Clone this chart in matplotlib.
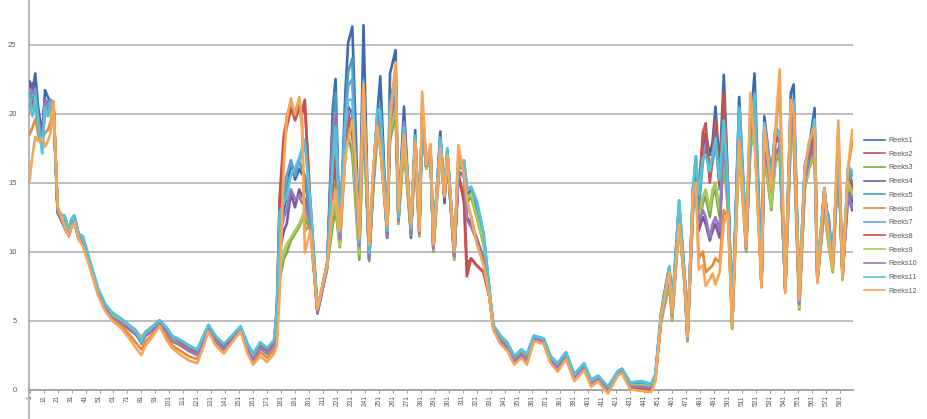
import matplotlib
matplotlib.use("Agg")
import matplotlib.pyplot as plt
import numpy as np

plt.rcParams['font.family'] = ['Liberation Sans', 'DejaVu Sans']

# shared sample positions (category index along the x axis)
days = [1, 3, 5, 7, 10, 12, 14, 16, 18, 21, 24, 26, 29, 31, 33, 36, 39,
        45, 50, 55, 60, 67, 73, 77, 81, 84, 88, 94, 99, 103, 109, 115, 121, 125, 129, 134, 140, 145, 152, 157, 161, 166, 171, 176,
        178, 180, 183, 185, 188, 191, 194, 196, 198, 202, 207, 210, 214,
        218, 220, 223, 227, 229, 232, 234, 237, 240, 244, 247, 250, 252, 257, 259, 263, 265,
        269, 274, 277, 280, 282, 285, 288, 290, 295, 298, 300, 305, 308, 312, 314, 317, 321, 326, 330, 333,
        338, 343, 348, 353, 357, 362, 369, 374, 379, 385, 391, 398, 403, 408, 415, 422, 425, 431, 439, 446, 449,
        453, 455, 459, 461, 466, 470, 472, 476, 478, 480, 483, 485, 488, 490, 492, 495, 498, 501, 504,
        509, 514, 517, 520, 525, 527, 532, 535, 538, 542, 546, 548, 552, 556, 559, 563, 565, 570, 573, 576, 580, 583, 587, 590]

reeks1 = [22.3, 21.5, 22.9, 20.5, 18.5, 21.7, 21.2, 20.8, 20.6, 12.8, 12.2, 11.7, 11.1, 11.8, 12.1, 10.9, 10.5,
          8.7, 7.0, 5.9, 5.3, 4.9, 4.4, 4.1, 3.5, 4.0, 4.3, 4.9, 4.3, 3.6, 3.3, 2.9, 2.6, 3.5, 4.5, 3.6, 3.0, 3.6, 4.4, 3.0, 2.2, 3.1, 2.7, 3.3,
          5.5, 12.0, 13.0, 14.0, 16.6, 15.2, 16.0, 15.6, 15.5, 12.0, 5.6, 7.0, 9.0,
          20.3, 22.5, 10.8, 21.5, 25.1, 26.3, 20.0, 10.5, 26.4, 9.8, 15.5, 20.0, 22.7, 11.0, 22.9, 24.6, 12.5,
          20.5, 11.0, 18.8, 11.5, 19.5, 16.0, 17.5, 10.2, 18.7, 13.5, 17.2, 9.8, 16.0, 16.2, 14.0, 14.5, 13.0, 11.0, 7.3, 4.6,
          3.6, 3.1, 2.1, 2.6, 2.1, 3.7, 3.5, 2.1, 1.6, 2.4, 0.9, 1.6, 0.4, 0.8, 0.0, 1.2, 1.4, 0.2, 0.2, 0.1, 0.9,
          5.0, 6.5, 8.5, 5.5, 12.5, 8.0, 3.8, 14.0, 16.5, 13.5, 17.5, 18.5, 17.0, 18.0, 20.5, 16.0, 22.8, 15.0, 4.6,
          21.2, 11.0, 19.0, 22.9, 8.0, 19.8, 15.5, 19.0, 18.5, 7.5, 21.5, 22.1, 7.0, 16.0, 17.5, 20.4, 8.5, 14.0, 11.0, 9.5, 17.0, 8.5, 15.0, 13.5]

reeks2 = [20.8, 21.0, 21.2, 19.6, 18.2, 20.6, 20.5, 20.4, 20.7, 13.0, 12.3, 11.8, 11.2, 11.9, 12.2, 11.0, 10.6,
          8.8, 7.1, 6.0, 5.4, 5.0, 4.5, 4.2, 3.8, 4.1, 4.4, 5.0, 4.4, 3.7, 3.4, 3.0, 2.7, 3.6, 4.5, 3.7, 3.1, 3.7, 4.4, 3.1, 2.4, 3.2, 2.8, 3.3,
          6.0, 14.0, 18.5, 19.5, 20.5, 19.5, 20.4, 20.2, 21.0, 12.8, 5.8, 7.2, 9.2,
          15.0, 17.0, 10.5, 18.5, 20.0, 19.0, 15.5, 10.8, 21.0, 9.5, 15.0, 19.5, 18.5, 11.5, 19.0, 21.0, 12.5,
          18.0, 11.5, 17.5, 11.8, 20.0, 16.2, 17.0, 10.5, 17.5, 14.0, 16.8, 9.6, 15.5, 14.0, 9.0, 9.5, 9.0, 8.5, 6.8, 4.4,
          3.5, 3.0, 2.0, 2.5, 2.0, 3.6, 3.4, 2.0, 1.5, 2.3, 0.8, 1.6, 0.4, 0.7, -0.1, 1.1, 1.3, 0.1, 0.1, 0.0, 0.8,
          5.3, 6.8, 8.9, 6.0, 13.0, 8.2, 4.0, 14.7, 16.0, 14.0, 18.6, 19.3, 15.5, 17.0, 19.5, 15.0, 21.0, 14.5, 4.8,
          19.5, 10.5, 18.5, 20.5, 7.8, 18.5, 14.0, 18.0, 18.0, 7.3, 20.0, 19.5, 6.5, 15.5, 17.0, 18.5, 8.0, 14.5, 11.5, 9.0, 17.5, 8.2, 15.5, 14.5]

reeks3 = [21.0, 20.2, 20.8, 19.2, 18.0, 20.2, 20.0, 20.2, 20.5, 13.1, 12.4, 11.9, 11.3, 12.0, 12.3, 11.1, 10.7,
          8.8, 7.1, 6.0, 5.3, 4.9, 4.3, 4.0, 3.7, 4.0, 4.3, 4.9, 4.2, 3.6, 3.2, 2.8, 2.6, 3.4, 4.4, 3.5, 3.0, 3.5, 4.3, 2.9, 2.3, 3.0, 2.6, 3.2,
          4.5, 8.0, 9.5, 9.9, 10.8, 11.3, 11.8, 12.3, 12.5, 11.5, 5.7, 7.0, 8.8,
          12.0, 13.0, 10.3, 17.0, 18.5, 17.0, 14.0, 9.4, 19.5, 9.3, 14.5, 18.5, 17.5, 11.2, 18.0, 20.0, 12.0,
          17.5, 11.2, 17.0, 11.1, 19.0, 16.0, 16.8, 10.0, 17.0, 14.2, 17.0, 9.4, 16.5, 15.8, 13.5, 14.0, 12.5, 10.5, 7.0, 4.5,
          3.7, 3.2, 2.2, 2.7, 2.2, 3.7, 3.5, 2.2, 1.7, 2.5, 1.0, 1.7, 0.5, 0.9, 0.1, 1.2, 1.4, 0.3, 0.3, 0.2, 1.0,
          4.8, 5.8, 7.5, 5.0, 12.0, 7.4, 3.5, 13.0, 14.0, 12.0, 13.5, 14.0, 12.5, 14.0, 14.5, 12.5, 16.5, 13.0, 4.4,
          17.5, 10.0, 17.5, 18.5, 7.5, 17.0, 13.0, 16.5, 17.0, 7.2, 18.0, 18.0, 5.8, 14.5, 16.0, 17.0, 7.8, 13.0, 10.5, 8.5, 16.5, 8.0, 15.0, 14.0]

reeks4 = [22.0, 22.2, 21.5, 19.0, 18.5, 21.0, 20.8, 20.6, 20.8, 12.9, 12.2, 11.8, 11.2, 11.9, 12.2, 11.0, 10.6,
          8.7, 7.0, 5.9, 5.3, 4.8, 4.3, 4.0, 3.4, 3.9, 4.2, 4.8, 4.2, 3.5, 3.2, 2.8, 2.5, 3.4, 4.4, 3.5, 2.9, 3.5, 4.3, 2.9, 2.1, 3.0, 2.6, 3.2,
          5.0, 10.0, 11.5, 12.0, 14.2, 13.2, 14.5, 14.0, 13.8, 12.0, 5.5, 6.9, 8.8,
          19.5, 20.5, 11.0, 19.0, 20.5, 20.0, 16.0, 10.5, 21.5, 9.5, 15.0, 19.8, 19.5, 11.0, 20.0, 22.0, 12.2,
          19.5, 11.3, 18.0, 11.4, 19.8, 16.3, 17.2, 10.3, 18.0, 14.0, 17.0, 9.7, 15.8, 15.5, 12.5, 12.0, 11.0, 9.5, 7.0, 4.5,
          3.6, 3.1, 2.1, 2.6, 2.1, 3.7, 3.5, 2.1, 1.6, 2.4, 0.9, 1.6, 0.4, 0.8, 0.0, 1.2, 1.4, 0.2, 0.2, 0.1, 0.9,
          5.0, 6.0, 8.0, 5.3, 12.3, 7.7, 3.6, 13.5, 14.5, 11.5, 12.5, 12.0, 10.8, 11.5, 12.0, 11.0, 19.0, 13.5, 4.6,
          19.0, 10.2, 18.0, 19.5, 7.6, 17.5, 14.5, 17.0, 17.5, 7.2, 19.0, 19.0, 6.2, 15.0, 16.5, 17.5, 7.9, 13.5, 12.5, 9.0, 16.8, 8.3, 14.0, 13.0]

reeks5 = [21.5, 21.0, 21.6, 18.5, 17.6, 20.8, 20.3, 20.6, 20.9, 13.0, 12.4, 12.2, 11.4, 12.2, 12.5, 11.2, 10.9,
          8.9, 7.2, 6.1, 5.5, 5.0, 4.5, 4.2, 3.3, 4.1, 4.4, 5.0, 4.4, 3.8, 3.5, 3.1, 2.8, 3.7, 4.6, 3.8, 3.2, 3.7, 4.5, 3.2, 2.5, 3.3, 2.9, 3.4,
          5.5, 12.5, 14.0, 15.0, 15.5, 16.0, 16.5, 16.0, 15.5, 12.5, 5.7, 7.1, 9.0,
          18.5, 21.5, 11.0, 20.0, 23.0, 24.0, 17.0, 10.2, 22.5, 9.6, 15.5, 20.0, 20.5, 11.2, 20.5, 22.5, 12.4,
          19.0, 11.5, 18.2, 11.6, 20.0, 16.5, 17.4, 10.6, 18.3, 14.3, 17.3, 10.0, 16.2, 16.4, 14.6, 14.6, 13.5, 11.2, 7.3, 4.6,
          3.8, 3.3, 2.3, 2.8, 2.3, 3.8, 3.6, 2.3, 1.8, 2.6, 1.0, 1.8, 0.6, 0.9, 0.1, 1.3, 1.5, 0.4, 0.5, 0.3, 1.0,
          5.4, 6.6, 8.7, 5.8, 13.5, 8.0, 3.9, 14.2, 16.9, 13.0, 16.5, 17.5, 15.5, 16.5, 18.5, 14.5, 20.5, 14.8, 4.9,
          20.0, 10.8, 18.8, 21.0, 7.7, 19.0, 15.0, 18.5, 18.0, 7.4, 20.5, 20.5, 6.8, 16.0, 17.2, 19.0, 8.2, 14.2, 11.5, 9.2, 17.5, 8.4, 15.8, 15.0]

reeks6 = [18.5, 19.0, 19.6, 18.6, 18.2, 18.6, 18.8, 19.4, 20.8, 13.2, 12.4, 11.9, 11.2, 11.9, 12.2, 11.0, 10.6,
          8.6, 6.9, 5.8, 5.1, 4.6, 3.9, 3.4, 2.9, 3.5, 3.9, 4.7, 3.9, 3.2, 2.8, 2.4, 2.2, 3.2, 4.3, 3.4, 2.8, 3.4, 4.3, 2.8, 2.0, 2.7, 2.3, 2.9,
          4.0, 9.0, 17.5, 19.8, 20.8, 20.0, 21.0, 19.0, 11.5, 12.0, 5.9, 7.2, 9.1,
          14.0, 15.0, 11.2, 17.0, 18.5, 19.5, 17.0, 11.0, 22.0, 10.2, 15.8, 19.0, 17.8, 11.6, 19.2, 23.2, 12.8,
          18.8, 11.9, 17.8, 11.4, 21.0, 16.4, 17.6, 10.4, 17.6, 14.0, 17.0, 10.1, 17.2, 15.6, 13.5, 12.6, 10.8, 9.2, 6.9, 4.4,
          3.4, 2.9, 1.9, 2.4, 1.9, 3.6, 3.4, 2.0, 1.4, 2.3, 0.7, 1.5, 0.3, 0.7, -0.2, 1.1, 1.3, 0.1, 0.0, -0.1, 0.7,
          5.1, 6.2, 8.4, 5.4, 12.2, 7.8, 3.7, 14.3, 15.5, 9.5, 10.0, 8.5, 8.8, 9.0, 9.5, 9.2, 13.0, 12.5, 4.7,
          18.0, 10.6, 20.5, 18.5, 7.4, 18.8, 14.2, 18.5, 22.0, 7.0, 20.0, 19.8, 6.4, 15.5, 17.8, 18.8, 7.9, 14.4, 11.2, 8.8, 19.0, 8.0, 16.0, 18.0]

reeks7 = [21.2, 20.5, 21.8, 19.8, 17.5, 20.9, 20.5, 21.0, 20.7, 13.0, 12.6, 12.6, 11.5, 12.4, 12.6, 11.3, 11.1,
          9.0, 7.3, 6.2, 5.5, 5.1, 4.6, 4.3, 3.6, 4.2, 4.5, 5.0, 4.5, 3.8, 3.5, 3.1, 2.9, 3.8, 4.6, 3.8, 3.2, 3.8, 4.5, 3.3, 2.6, 3.4, 3.0, 3.5,
          5.8, 13.0, 14.5, 15.5, 16.6, 15.5, 16.6, 17.0, 18.1, 13.5, 5.8, 7.2, 9.1,
          17.0, 20.0, 11.2, 19.5, 22.0, 22.5, 16.5, 10.6, 22.0, 9.8, 15.6, 20.2, 20.0, 11.3, 20.8, 22.8, 12.3,
          19.2, 11.6, 18.4, 11.7, 19.8, 16.6, 17.5, 10.7, 18.2, 14.4, 17.4, 10.2, 16.3, 16.6, 14.7, 14.5, 13.7, 11.3, 7.3, 4.6,
          3.9, 3.4, 2.4, 2.9, 2.5, 3.9, 3.7, 2.4, 1.9, 2.7, 1.1, 1.9, 0.7, 1.0, 0.2, 1.3, 1.5, 0.5, 0.6, 0.4, 1.1,
          5.5, 6.6, 8.9, 5.9, 13.7, 8.1, 4.0, 14.6, 16.8, 14.0, 17.0, 17.8, 16.0, 16.5, 18.0, 15.0, 20.0, 14.5, 5.0,
          20.5, 11.0, 19.0, 21.5, 7.8, 19.2, 15.2, 18.8, 18.3, 7.6, 20.8, 21.0, 7.0, 16.2, 17.4, 19.5, 8.4, 14.5, 11.7, 9.4, 17.8, 8.6, 16.0, 15.5]

reeks8 = [20.5, 20.8, 21.0, 19.4, 18.0, 20.4, 20.2, 20.4, 20.6, 12.9, 12.3, 11.8, 11.2, 11.9, 12.1, 11.0, 10.6,
          8.7, 7.0, 5.9, 5.3, 4.9, 4.4, 4.1, 3.7, 4.0, 4.3, 4.9, 4.3, 3.6, 3.3, 2.9, 2.6, 3.5, 4.5, 3.6, 3.0, 3.6, 4.4, 3.0, 2.3, 3.1, 2.7, 3.3,
          5.8, 13.5, 18.0, 19.0, 20.3, 19.9, 20.5, 20.0, 20.6, 13.5, 5.8, 7.1, 9.0,
          15.0, 16.0, 10.6, 18.0, 19.5, 18.5, 15.0, 11.0, 20.5, 9.7, 15.0, 19.0, 18.0, 11.6, 19.0, 21.2, 12.6,
          18.2, 11.4, 17.6, 11.7, 20.2, 16.1, 17.1, 10.4, 17.6, 13.9, 16.9, 9.7, 15.6, 13.5, 8.2, 9.5, 9.0, 8.5, 6.8, 4.4,
          3.5, 3.0, 2.0, 2.5, 2.0, 3.6, 3.4, 2.0, 1.5, 2.3, 0.8, 1.6, 0.4, 0.7, -0.1, 1.1, 1.3, 0.1, 0.1, 0.0, 0.8,
          5.3, 6.5, 8.8, 5.8, 12.8, 8.0, 3.9, 14.4, 16.0, 14.5, 18.0, 18.6, 15.0, 16.8, 19.0, 14.8, 21.5, 14.2, 5.0,
          19.8, 10.4, 18.3, 20.8, 7.6, 18.3, 14.3, 18.2, 18.2, 7.2, 20.3, 19.2, 6.4, 15.6, 16.8, 18.6, 7.8, 14.6, 11.6, 9.0, 17.6, 8.1, 15.2, 14.8]

reeks9 = [20.2, 20.0, 20.5, 19.0, 18.3, 20.0, 19.8, 20.0, 20.4, 13.1, 12.4, 11.9, 11.3, 12.0, 12.3, 11.1, 10.7,
          8.8, 7.1, 6.0, 5.4, 4.9, 4.4, 4.1, 3.8, 4.0, 4.3, 4.8, 4.2, 3.6, 3.2, 2.8, 2.5, 3.4, 4.4, 3.5, 2.9, 3.5, 4.3, 2.9, 2.4, 3.0, 2.6, 3.2,
          4.8, 8.5, 10.0, 10.5, 11.0, 11.5, 12.0, 12.5, 13.0, 12.0, 5.8, 7.1, 8.9,
          13.0, 13.5, 10.4, 17.5, 18.0, 18.0, 14.5, 9.8, 20.0, 9.5, 14.8, 18.8, 17.8, 11.4, 18.5, 20.5, 12.1,
          17.8, 11.3, 17.2, 11.2, 19.2, 16.0, 16.9, 10.1, 17.2, 14.1, 17.1, 9.5, 16.6, 15.9, 13.8, 14.2, 12.6, 10.6, 7.1, 4.5,
          3.7, 3.2, 2.2, 2.7, 2.2, 3.7, 3.5, 2.2, 1.7, 2.5, 1.0, 1.7, 0.5, 0.9, 0.1, 1.2, 1.4, 0.3, 0.3, 0.2, 1.0,
          4.9, 5.9, 7.7, 5.1, 12.1, 7.5, 3.6, 13.2, 14.3, 12.3, 14.0, 14.5, 13.0, 14.5, 15.0, 13.0, 17.0, 13.2, 4.5,
          17.8, 10.1, 17.6, 18.8, 7.5, 17.2, 13.2, 16.7, 17.2, 7.2, 18.2, 18.2, 5.9, 14.6, 16.1, 17.1, 7.8, 13.1, 10.6, 8.6, 16.6, 8.0, 15.1, 14.2]

reeks10 = [21.8, 21.6, 21.2, 19.3, 18.4, 20.9, 20.6, 20.5, 20.7, 12.9, 12.3, 11.8, 11.2, 11.9, 12.2, 11.0, 10.6,
           8.7, 7.0, 5.9, 5.2, 4.8, 4.3, 4.0, 3.5, 3.9, 4.2, 4.8, 4.2, 3.5, 3.2, 2.8, 2.5, 3.4, 4.4, 3.5, 2.9, 3.5, 4.3, 2.9, 2.2, 3.0, 2.6, 3.2,
           5.2, 11.0, 12.5, 13.0, 14.5, 13.8, 14.0, 13.5, 13.5, 12.0, 5.6, 7.0, 8.9,
           18.0, 20.0, 10.9, 18.8, 20.0, 20.0, 15.8, 10.4, 21.0, 9.4, 15.0, 19.6, 19.2, 11.0, 19.6, 21.8, 12.2,
           19.4, 11.3, 17.9, 11.3, 19.7, 16.2, 17.2, 10.2, 17.9, 14.0, 17.0, 9.6, 15.7, 15.4, 12.3, 11.8, 10.8, 9.4, 7.0, 4.5,
           3.6, 3.1, 2.1, 2.6, 2.1, 3.7, 3.5, 2.1, 1.6, 2.4, 0.9, 1.6, 0.4, 0.8, 0.0, 1.2, 1.4, 0.2, 0.2, 0.1, 0.9,
           5.1, 6.1, 8.2, 5.4, 12.4, 7.8, 3.7, 13.6, 14.8, 12.0, 13.0, 12.5, 11.0, 12.0, 12.5, 11.5, 18.5, 13.6, 4.7,
           19.2, 10.2, 18.2, 19.8, 7.6, 17.6, 14.6, 17.2, 17.6, 7.2, 19.2, 19.2, 6.2, 15.1, 16.6, 17.6, 7.9, 13.6, 12.6, 9.1, 16.9, 8.3, 14.2, 13.2]

reeks11 = [21.0, 19.8, 21.3, 19.5, 17.1, 20.5, 19.8, 20.7, 20.8, 13.1, 12.6, 12.6, 11.6, 12.4, 12.6, 11.3, 11.1,
           9.0, 7.3, 6.2, 5.6, 5.1, 4.6, 4.3, 3.4, 4.2, 4.5, 5.0, 4.5, 3.9, 3.6, 3.2, 2.9, 3.8, 4.7, 3.9, 3.3, 3.8, 4.6, 3.3, 2.6, 3.4, 3.0, 3.6,
           5.8, 12.8, 13.5, 14.0, 15.5, 16.0, 16.8, 17.5, 18.0, 13.5, 5.9, 7.2, 9.1,
           16.5, 19.0, 11.4, 19.2, 21.0, 21.0, 16.8, 10.7, 21.5, 9.9, 15.7, 20.3, 20.2, 11.5, 20.5, 22.0, 12.5,
           19.0, 11.7, 18.3, 11.8, 19.9, 16.6, 17.5, 10.8, 18.1, 14.5, 17.5, 10.3, 16.4, 16.6, 14.5, 14.7, 13.7, 11.3, 7.4, 4.7,
           3.9, 3.4, 2.4, 2.9, 2.6, 3.9, 3.7, 2.4, 1.9, 2.7, 1.1, 1.9, 0.7, 1.0, 0.2, 1.3, 1.5, 0.5, 0.6, 0.4, 1.1,
           5.5, 6.6, 8.9, 6.0, 13.7, 8.2, 4.1, 14.7, 16.9, 14.2, 16.8, 17.0, 15.8, 17.0, 18.2, 15.2, 19.5, 14.6, 5.1,
           20.3, 11.2, 19.2, 21.3, 7.9, 19.3, 15.3, 18.9, 18.4, 7.6, 20.6, 20.8, 7.1, 16.3, 17.5, 19.6, 8.5, 14.6, 11.8, 9.5, 17.9, 8.7, 16.2, 15.8]

reeks12 = [15.2, 17.0, 18.3, 18.0, 18.2, 17.6, 18.0, 18.6, 20.9, 13.3, 12.4, 11.8, 11.1, 11.8, 12.1, 10.9, 10.4,
           8.5, 6.8, 5.7, 5.0, 4.4, 3.6, 3.0, 2.5, 3.2, 3.7, 4.6, 3.6, 3.0, 2.5, 2.1, 1.9, 3.0, 4.2, 3.2, 2.6, 3.3, 4.2, 2.6, 1.8, 2.4, 2.0, 2.6,
           3.2, 7.0, 16.5, 19.5, 21.1, 19.9, 21.2, 19.5, 9.9, 11.5, 5.8, 7.3, 9.0,
           13.4, 14.5, 11.5, 16.9, 18.0, 19.5, 17.0, 11.0, 22.2, 10.5, 16.0, 19.1, 17.5, 11.8, 19.5, 23.7, 13.0,
           18.5, 12.0, 18.0, 11.5, 21.6, 16.3, 17.8, 10.5, 17.5, 14.0, 17.0, 10.0, 17.7, 15.5, 13.7, 12.5, 10.6, 9.0, 6.8, 4.3,
           3.3, 2.8, 1.8, 2.3, 1.8, 3.5, 3.3, 1.9, 1.3, 2.2, 0.6, 1.4, 0.2, 0.6, -0.3, 1.0, 1.2, 0.0, -0.1, -0.2, 0.6,
           5.2, 6.3, 8.5, 5.5, 12.0, 7.9, 3.8, 14.2, 15.0, 8.7, 9.0, 7.5, 8.0, 8.4, 7.6, 8.5, 12.0, 12.8, 4.5,
           18.0, 10.3, 21.5, 18.0, 7.4, 19.0, 14.5, 19.0, 23.2, 7.0, 21.0, 20.0, 6.5, 15.8, 18.0, 19.0, 7.7, 14.5, 11.0, 8.7, 19.5, 7.9, 16.1, 18.8]

series_names = ['Reeks1', 'Reeks2', 'Reeks3', 'Reeks4', 'Reeks5', 'Reeks6',
                'Reeks7', 'Reeks8', 'Reeks9', 'Reeks10', 'Reeks11', 'Reeks12']
series_values = [reeks1, reeks2, reeks3, reeks4, reeks5, reeks6,
                 reeks7, reeks8, reeks9, reeks10, reeks11, reeks12]
series_colors = ['#3E6BAD', '#B9575C', '#78A840', '#7A5A9E', '#4A9EC3', '#E58C38',
                 '#679FD9', '#C9504C', '#A9C95A', '#9679BE', '#56C2D6', '#F4A65A']

n_categories = 590
x_tick_pos = list(range(1, n_categories + 1, 10))
x_tick_labels = [str(v) for v in x_tick_pos]
y_ticks = [0, 5, 10, 15, 20, 25]

W, H = 927, 419
fig = plt.figure(figsize=(W / 100, H / 100), dpi=100)

# axes placed so that y=0 sits at px 389.5 and y=25 at px 44.5; the chart is cropped at top/bottom
y_lo, y_hi = -5, 30
px_per_unit = 13.8
y0_px = 389.5
top_px = y0_px - (y_hi) * px_per_unit
bot_px = y0_px - (y_lo) * px_per_unit
left_px, right_px = 29, 853
ax = fig.add_axes([left_px / W, (H - bot_px) / H, (right_px - left_px) / W, (bot_px - top_px) / H])
ax.set_xlim(0.5, n_categories + 0.5)
ax.set_ylim(y_lo, y_hi)

for yv in y_ticks[1:]:
    ax.axhline(yv, color='#ABABAB', lw=1.1, zorder=1)

for name, vals, col in zip(series_names, series_values, series_colors):
    ax.plot(days, vals, color=col, lw=1.9, label=name, zorder=3, solid_joinstyle='round')

for s in ['top', 'right']:
    ax.spines[s].set_visible(False)
ax.spines['left'].set_color('#A8A8A8')
ax.spines['left'].set_linewidth(1.2)
ax.spines['bottom'].set_position(('data', 0))
ax.spines['bottom'].set_color('#9E9E9E')
ax.spines['bottom'].set_linewidth(1.3)
ax.spines['bottom'].set_zorder(2)

ax.set_yticks(y_ticks)
ax.set_yticklabels([str(v) for v in y_ticks], fontsize=5.5, color='#595959')
ax.tick_params(axis='y', length=0, pad=9)

ax.set_xticks(x_tick_pos)
ax.set_xticklabels(x_tick_labels, rotation=90, fontsize=4.8, color='#595959', va='top')
ax.tick_params(axis='x', length=2.5, width=0.8, color='#9E9E9E', pad=1.5, direction='out')

ax.patch.set_alpha(0)

leg = fig.legend(loc='upper left', bbox_to_anchor=(864 / W, 1 - 137 / H), frameon=False,
                 fontsize=5.2, labelspacing=0.92, handlelength=2.9, handletextpad=0.5,
                 borderpad=0, borderaxespad=0)
for t in leg.get_texts():
    t.set_color('#595959')
for h in leg.get_lines():
    h.set_linewidth(1.2)

fig.savefig('out.png', dpi=100)
